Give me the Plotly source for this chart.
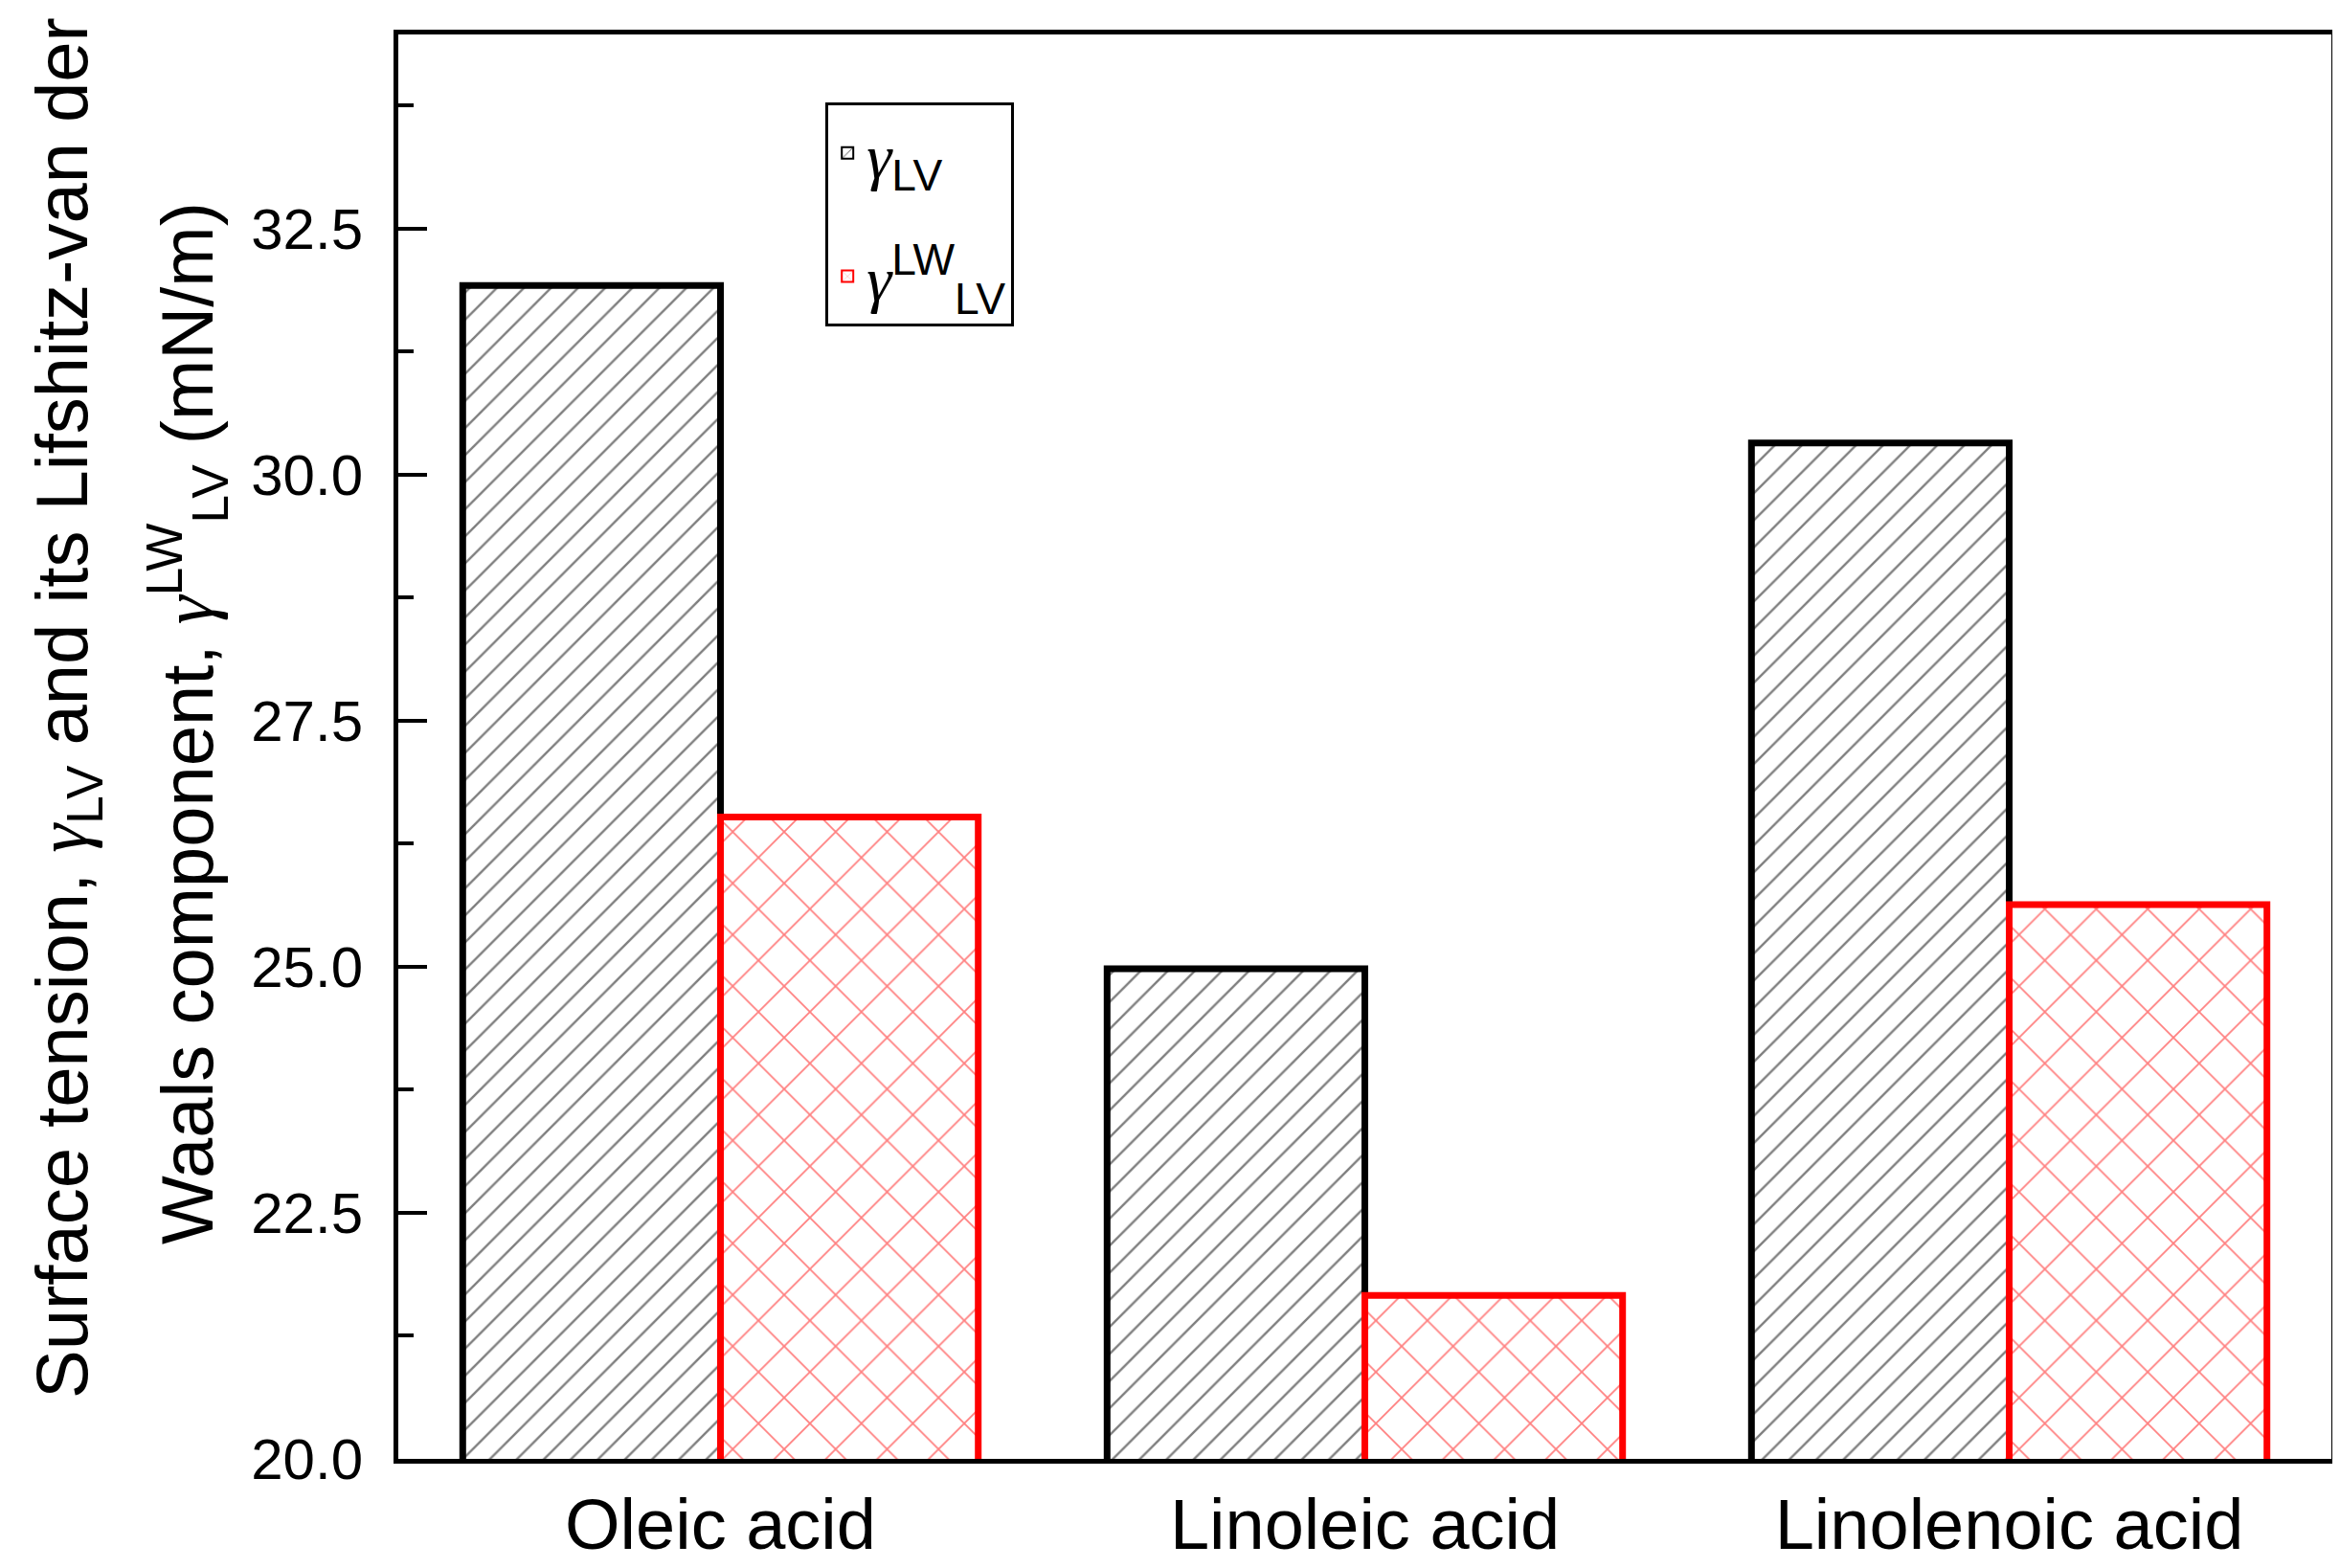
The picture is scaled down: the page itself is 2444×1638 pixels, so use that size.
import plotly.graph_objects as go

categories = ["Oleic acid", "Linoleic acid", "Linolenoic acid"]
gamma_lv = [31.92, 24.98, 30.32]
gamma_lw = [26.52, 21.66, 25.63]
y_ticks = [20.0, 22.5, 25.0, 27.5, 30.0, 32.5]
y_tick_text = ["20.0", "22.5", "25.0", "27.5", "30.0", "32.5"]

FONT = "Arial, Liberation Sans, sans-serif"
G = "<span style='font-family:\"Liberation Serif\", serif'><i>γ</i></span>"

fig = go.Figure()
fig.add_trace(go.Bar(
    x=categories, y=gamma_lv, name=G + "<sub>LV</sub>  ",
    marker=dict(color="white", line=dict(color="black", width=7),
                pattern=dict(shape="/", fgcolor="black", bgcolor="white", size=20, solidity=0.12)),
    legendgroup="a",
))
fig.add_trace(go.Bar(
    x=categories, y=gamma_lw, name=G + "<sup>LW</sup><sub>LV</sub>",
    marker=dict(color="white", line=dict(color="#ff0000", width=7),
                pattern=dict(shape="x", fgcolor="#ff0000", bgcolor="white", size=38, solidity=0.09)),
    legendgroup="b",
))

fig.update_layout(
    width=2444, height=1638,
    margin=dict(l=408, r=16, t=28, b=114),
    paper_bgcolor="white", plot_bgcolor="white",
    barmode="group", bargap=0.2, bargroupgap=0,
    font=dict(family=FONT, color="black", size=60),
    showlegend=True,
    legend=dict(x=0.221, y=0.952, xanchor="left", yanchor="top",
                bgcolor="white", bordercolor="black", borderwidth=3,
                font=dict(size=66), traceorder="grouped", tracegroupgap=40,
                itemsizing="constant"),
)
fig.update_xaxes(
    range=[-0.5, 2.5], showline=True, linecolor="black", linewidth=5, mirror=True,
    ticks="", tickfont=dict(size=74), showgrid=False, zeroline=False,
)
fig.update_yaxes(
    range=[20, 34.47], showline=True, linecolor="black", linewidth=5, mirror=True,
    ticks="inside", ticklen=30, tickwidth=4, tickcolor="black",
    tickvals=y_ticks, ticktext=y_tick_text, tickfont=dict(size=60),
    ticklabelstandoff=20,
    minor=dict(ticks="inside", ticklen=16, tickwidth=4, tickcolor="black", dtick=1.25),
    showgrid=False, zeroline=False,
)

fig.add_annotation(
    xref="paper", yref="paper", x=-0.0, y=0.5, xshift=-346, yshift=40,
    text="Surface tension, " + G + "<sub>LV</sub> and its Lifshitz-van der",
    textangle=-90, showarrow=False, font=dict(size=76, family=FONT), xanchor="center", yanchor="middle",
)
fig.add_annotation(
    xref="paper", yref="paper", x=-0.0, y=0.5, xshift=-221, yshift=24,
    text="Waals component, " + G + "<sup>LW</sup><sub>LV</sub> (mN/m)",
    textangle=-90, showarrow=False, font=dict(size=76, family=FONT), xanchor="center", yanchor="middle",
)

fig.write_html("out.html")
